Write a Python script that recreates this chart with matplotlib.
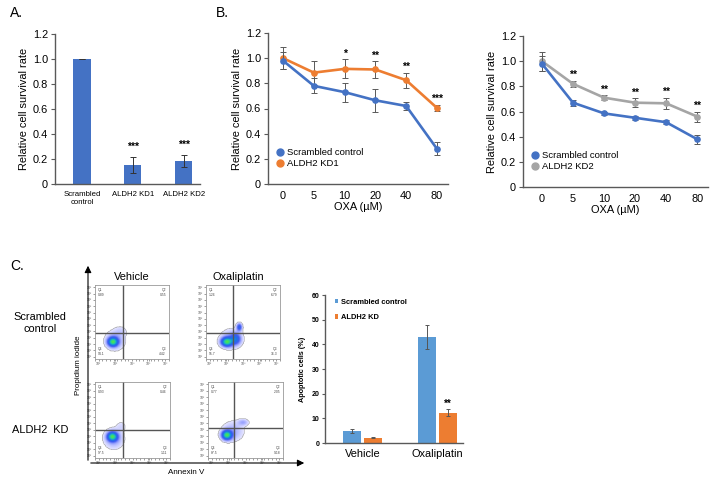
import numpy as np
import matplotlib
matplotlib.use("Agg")
import matplotlib.pyplot as plt
from matplotlib.lines import Line2D
from matplotlib.colors import LinearSegmentedColormap

plt.rcParams['font.family'] = ['Liberation Sans', 'DejaVu Sans']

# ---------------- data ----------------
a_labels = ["Scrambled\ncontrol", "ALDH2 KD1", "ALDH2 KD2"]
a_values = [1.0, 0.15, 0.185]
a_errors = [0.003, 0.065, 0.045]
a_stars = ["", "***", "***"]

oxa_labels = ["0", "5", "10", "20", "40", "80"]
b_scr = [0.98, 0.78, 0.73, 0.665, 0.62, 0.28]
b_scr_err = [0.07, 0.06, 0.075, 0.09, 0.035, 0.05]
b_kd1 = [1.0, 0.885, 0.915, 0.91, 0.825, 0.605]
b_kd1_err = [0.09, 0.095, 0.075, 0.065, 0.06, 0.025]
b_stars = ["", "", "*", "**", "**", "***"]

r_scr = [0.98, 0.67, 0.585, 0.55, 0.515, 0.38]
r_scr_err = [0.06, 0.025, 0.012, 0.015, 0.015, 0.035]
r_kd2 = [1.0, 0.82, 0.71, 0.67, 0.665, 0.56]
r_kd2_err = [0.075, 0.025, 0.02, 0.035, 0.045, 0.04]
r_stars = ["", "**", "**", "**", "**", "**"]

c_groups = ["Vehicle", "Oxaliplatin"]
c_scr = [4.8, 43.0]
c_scr_err = [0.8, 4.8]
c_kd = [2.2, 12.3]
c_kd_err = [0.3, 1.4]
c_stars = ["", "**"]

# flow cytometry panels: quadrant gates (x, y in axes fraction), cluster (cx, cy, sx, sy, weight)
flow_gates = {"TL": (0.38, 0.35), "TR": (0.365, 0.35), "BL": (0.37, 0.37), "BR": (0.35, 0.39)}
flow_clusters = {
    "TL": [(0.24, 0.23, 0.045, 0.04, 1.0), (0.27, 0.25, 0.09, 0.09, 0.22), (0.35, 0.38, 0.06, 0.05, 0.08)],
    "TR": [(0.28, 0.23, 0.05, 0.04, 1.0), (0.45, 0.43, 0.025, 0.035, 0.5), (0.40, 0.27, 0.045, 0.05, 0.5),
           (0.34, 0.27, 0.1, 0.09, 0.2)],
    "BL": [(0.23, 0.28, 0.045, 0.04, 1.0), (0.25, 0.25, 0.09, 0.09, 0.22), (0.35, 0.42, 0.05, 0.05, 0.08)],
    "BR": [(0.25, 0.30, 0.045, 0.04, 1.0), (0.47, 0.47, 0.05, 0.03, 0.18), (0.33, 0.35, 0.1, 0.09, 0.18)],
}
flow_quads = {
    "TL": ["0.89", "0.55", "94.1", "4.42"],
    "TR": ["1.26", "6.79", "55.7", "36.3"],
    "BL": ["0.93", "0.46", "97.5", "1.11"],
    "BR": ["0.77", "2.05", "87.5", "9.18"],
}

W, H = 715, 479
fig = plt.figure(figsize=(W / 100, H / 100), dpi=100)
FS = 7.9


def ax_px(x0, y0, x1, y1):
    return fig.add_axes([x0 / W, 1 - y1 / H, (x1 - x0) / W, (y1 - y0) / H])


def style(ax):
    for s in ["top", "right"]:
        ax.spines[s].set_visible(False)
    for s in ["left", "bottom"]:
        ax.spines[s].set_color("#595959")
        ax.spines[s].set_linewidth(1.0)
    ax.tick_params(axis="y", length=3, width=0.8, color="#595959", labelsize=FS, pad=2)
    ax.tick_params(axis="x", length=0, labelsize=FS, pad=5)


BLUE = "#4472C4"
ORANGE = "#ED7D31"
GRAY = "#A5A5A5"
ECOL = "#595959"

# ---------------- Panel A ----------------
axA = ax_px(55, 34, 200, 184)
style(axA)
xa = np.arange(len(a_values))
axA.bar(xa, a_values, width=0.34, color=BLUE, yerr=a_errors, capsize=2,
        error_kw=dict(ecolor="#333333", elinewidth=0.7, capthick=0.7))
axA.set_xlim(-0.53, 2.32)
axA.set_ylim(0, 1.2)
axA.set_yticks([0, 0.2, 0.4, 0.6, 0.8, 1.0, 1.2])
axA.set_yticklabels(["0", "0.2", "0.4", "0.6", "0.8", "1.0", "1.2"])
axA.set_xticks(xa)
axA.set_xticklabels(a_labels, fontsize=5.6)
axA.set_ylabel("Relative cell survival rate", fontsize=FS, labelpad=3)
for i, s in enumerate(a_stars):
    if s:
        axA.text(xa[i], a_values[i] + a_errors[i] + 0.04, s, ha="center", va="bottom",
                 fontsize=7.5, fontweight="bold")
fig.text(10 / W, 1 - 13 / H, "A.", fontsize=10, va="center")


# ---------------- Line panels ----------------
def line_panel(box, scr, scr_err, kd, kd_err, kdcol, kdlabel, stars, xlim):
    ax = ax_px(*box)
    style(ax)
    x = np.arange(len(oxa_labels))
    ek = dict(elinewidth=0.7, capsize=2, capthick=0.7, ecolor=ECOL)
    ax.errorbar(x, scr, yerr=scr_err, color=BLUE, lw=1.9, marker="o", ms=3.8, zorder=3, **ek)
    ax.errorbar(x, kd, yerr=kd_err, color=kdcol, lw=1.9, marker="o", ms=3.8, zorder=2, **ek)
    for i, s in enumerate(stars):
        if s:
            top = max(scr[i] + scr_err[i], kd[i] + kd_err[i])
            ax.text(x[i], top + 0.005, s, ha="center", va="bottom", fontsize=7.5, fontweight="bold")
    ax.set_xlim(*xlim)
    ax.set_ylim(0, 1.2)
    ax.set_yticks([0, 0.2, 0.4, 0.6, 0.8, 1.0, 1.2])
    ax.set_yticklabels(["0", "0.2", "0.4", "0.6", "0.8", "1.0", "1.2"])
    ax.set_xticks(x)
    ax.set_xticklabels(oxa_labels)
    ax.set_xlabel("OXA (\u00b5M)", fontsize=FS, labelpad=1)
    ax.set_ylabel("Relative cell survival rate", fontsize=FS, labelpad=3)
    handles = [Line2D([], [], marker="o", ls="none", color=BLUE, ms=5),
               Line2D([], [], marker="o", ls="none", color=kdcol, ms=5)]
    ax.legend(handles, ["Scrambled control", kdlabel], loc="lower left",
              bbox_to_anchor=(0.0, 0.06), frameon=False, fontsize=6.8,
              handletextpad=0.1, labelspacing=0.25, borderpad=0.2, handlelength=1.2)
    return ax


line_panel((268, 33, 448, 184), b_scr, b_scr_err, b_kd1, b_kd1_err, ORANGE, "ALDH2 KD1",
           b_stars, (-0.49, 5.36))
fig.text(216 / W, 1 - 13 / H, "B.", fontsize=10, va="center")
line_panel((523, 36, 708, 187), r_scr, r_scr_err, r_kd2, r_kd2_err, GRAY, "ALDH2 KD2",
           r_stars, (-0.61, 5.35))

# ---------------- Panel C flow plots ----------------
fig.text(10 / W, 1 - 266 / H, "C.", fontsize=10, va="center")
fig.text(132 / W, 1 - 277 / H, "Vehicle", fontsize=FS, ha="center", va="center")
fig.text(238 / W, 1 - 277 / H, "Oxaliplatin", fontsize=FS, ha="center", va="center")
fig.text(40 / W, 1 - 323 / H, "Scrambled\ncontrol", fontsize=FS, ha="center", va="center",
         linespacing=1.15)
fig.text(40 / W, 1 - 430 / H, "ALDH2  KD", fontsize=FS, ha="center", va="center")
fig.text(79 / W, 1 - 365 / H, "Propidium iodide", fontsize=5.8, ha="center", va="center",
         rotation=90)
fig.text(186 / W, 1 - 472 / H, "Annexin V", fontsize=5.8, ha="center", va="center")
fig.add_artist(matplotlib.patches.FancyArrowPatch(
    (88 / W, 1 - 463 / H), (88 / W, 1 - 263 / H), transform=fig.transFigure,
    arrowstyle="-|>,head_length=4,head_width=2", color="black", lw=0.8))
fig.add_artist(matplotlib.patches.FancyArrowPatch(
    (88 / W, 1 - 463 / H), (307 / W, 1 - 463 / H), transform=fig.transFigure,
    arrowstyle="-|>,head_length=4,head_width=2", color="black", lw=0.8))

cmap = LinearSegmentedColormap.from_list("flow", [
    (0.0, (0.90, 0.90, 1.0)), (0.12, (0.65, 0.68, 1.0)), (0.3, (0.25, 0.35, 0.95)),
    (0.55, (0.1, 0.45, 0.9)), (0.75, (0.1, 0.75, 0.75)), (1.0, (0.3, 0.9, 0.3))])

boxes = {"TL": (95, 285, 169, 359), "TR": (206, 285, 280, 359),
         "BL": (95, 382, 170, 458), "BR": (208, 382, 283, 458)}
gx, gy = np.meshgrid(np.linspace(0, 1, 120), np.linspace(0, 1, 120))
for key, box in boxes.items():
    ax = ax_px(*box)
    dens = np.zeros_like(gx)
    for cx, cy, sx, sy, w in flow_clusters[key]:
        dens += w * np.exp(-(((gx - cx) / sx) ** 2 + ((gy - cy) / sy) ** 2) / 2)
    dens = dens / dens.max()
    dm = np.ma.masked_less(dens, 0.05)
    ax.imshow(dm, extent=(0, 1, 0, 1), origin="lower", cmap=cmap, vmin=0.05, vmax=1,
              interpolation="bilinear", aspect="auto")
    vx, hy = flow_gates[key]
    ax.axvline(vx, color="#555555", lw=1.0)
    ax.axhline(hy, color="#555555", lw=1.0)
    ax.set_xlim(0, 1)
    ax.set_ylim(0, 1)
    for s in ax.spines.values():
        s.set_color("#999999")
        s.set_linewidth(0.6)
    ax.set_xticks(np.linspace(0.05, 0.95, 5))
    ax.set_xticks(np.linspace(0.0, 1.0, 21), minor=True)
    ax.set_yticks(np.linspace(0.03, 0.97, 12))
    ax.set_xticklabels(["10\u00b2", "10\u00b3", "10\u2074", "10\u2075", "10\u2076"], fontsize=2.5)
    ax.set_yticklabels(["10\u00b2"] * 12, fontsize=2.5)
    ax.tick_params(length=1.5, width=0.4, pad=0.5, colors="#555555", which="both")
    q = flow_quads[key]
    fs = 2.4
    ax.text(0.04, 0.96, "Q1\n" + q[0], fontsize=fs, va="top", ha="left", color="#444444")
    ax.text(0.96, 0.96, "Q2\n" + q[1], fontsize=fs, va="top", ha="right", color="#444444")
    ax.text(0.04, 0.04, "Q4\n" + q[2], fontsize=fs, va="bottom", ha="left", color="#444444")
    ax.text(0.96, 0.04, "Q3\n" + q[3], fontsize=fs, va="bottom", ha="right", color="#444444")

# ---------------- Panel C bar chart ----------------
axC = ax_px(325, 295, 463, 443)
style(axC)
xc = np.arange(len(c_groups))
bw, off = 0.227, 0.14
ekc = dict(ecolor="#555555", elinewidth=0.7, capthick=0.7)
axC.bar(xc - off, c_scr, width=bw, color="#5B9BD5", yerr=c_scr_err, capsize=1.5,
        error_kw=ekc, label="Scrambled control")
axC.bar(xc + off, c_kd, width=bw, color=ORANGE, yerr=c_kd_err, capsize=1.5,
        error_kw=ekc, label="ALDH2 KD")
for i, s in enumerate(c_stars):
    if s:
        axC.text(xc[i] + off, c_kd[i] + c_kd_err[i] + 0.3, s, ha="center", va="bottom",
                 fontsize=7, fontweight="bold")
axC.set_xlim(-0.5, 1.34)
axC.set_ylim(0, 60)
axC.set_yticks([0, 10, 20, 30, 40, 50, 60])
axC.tick_params(axis="y", labelsize=5.0, length=2)
for t in axC.get_yticklabels():
    t.set_fontweight("bold")
axC.set_xticks(xc)
axC.set_xticklabels(c_groups, fontsize=FS)
axC.tick_params(axis="x", pad=4)
axC.set_ylabel("Apoptotic cells (%)", fontsize=5.2, fontweight="bold", labelpad=4)
leg = axC.legend(loc="upper left", bbox_to_anchor=(0.02, 1.02), frameon=False,
                 prop=dict(size=5.4, weight="bold"), handlelength=0.5, handleheight=0.5,
                 handletextpad=0.4, labelspacing=1.1)

fig.savefig("out.png", dpi=100)
